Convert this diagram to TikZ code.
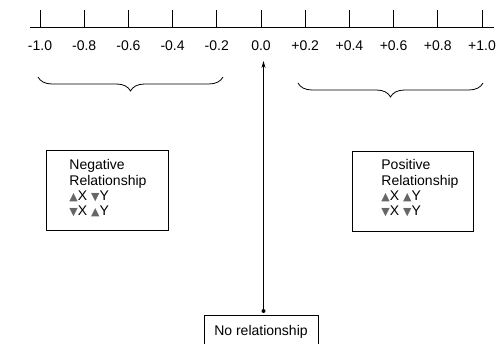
\documentclass[tikz,border=0pt]{standalone}
\usepackage{fontspec}
\setmainfont{Liberation Sans}
\newfontfamily\symfont{DejaVu Sans}
\usetikzlibrary{decorations.pathreplacing,arrows.meta}
\newcommand{\upa}{{\symfont\fontsize{11}{11}\selectfont\textcolor{black!60}{▲}}}
\newcommand{\dna}{{\symfont\fontsize{11}{11}\selectfont\textcolor{black!60}{▼}}}
\begin{document}
\begin{tikzpicture}[x=1pt,y=-1pt,
  lab/.style={font=\fontsize{14}{16}\selectfont, inner sep=0pt},
  relbox/.style={draw, line width=0.8pt, minimum width=#1, minimum height=80pt, inner sep=0pt},
  bodytext/.style={font=\fontsize{14}{16}\selectfont, align=left, inner sep=0pt, anchor=north west},
  bracestyle/.style={decorate, decoration={brace, mirror, amplitude=14pt}, line width=0.8pt},
  line width=0.8pt]
\useasboundingbox (0,0) rectangle (500,344);
% axis
\draw (30,27) -- (494,27);
\foreach \i/\t in {0/-1.0,1/-0.8,2/-0.6,3/-0.4,4/-0.2,5/0.0,6/+0.2,7/+0.4,8/+0.6,9/+0.8,10/+1.0}{
  \draw ({40+44.2*\i},10) -- ({40+44.2*\i},27);
  \node[lab] (l\i) at ({40+44.2*\i},46) {\t};
}
% braces
\draw[bracestyle] (38,77) -- (223,77);
\draw[bracestyle] (298,83) -- (483,83);
% boxes
\node[relbox=122pt] (neg) at (107,190) {};
\node[bodytext] (negt) at (69,159) {Negative\\Relationship\\[-1pt]\upa X \dna Y\\[-1pt]\dna X \upa Y};
\node[relbox=121pt] (pos) at (412.5,191) {};
\node[bodytext] (post) at (381,159) {Positive\\Relationship\\[-1pt]\upa X \upa Y\\[-1pt]\dna X \dna Y};
\node[draw, line width=0.8pt, minimum width=114pt, minimum height=34pt, inner sep=0pt, lab] (nr) at (261,332) {No relationship};
% arrow
\coordinate (dot) at (263.5,311);
\coordinate (tip) at (263.5,61);
\fill (dot) circle (2pt);
\draw[-{Stealth[length=7pt,width=4pt]}] (dot) -- (tip);
\end{tikzpicture}
\end{document}
